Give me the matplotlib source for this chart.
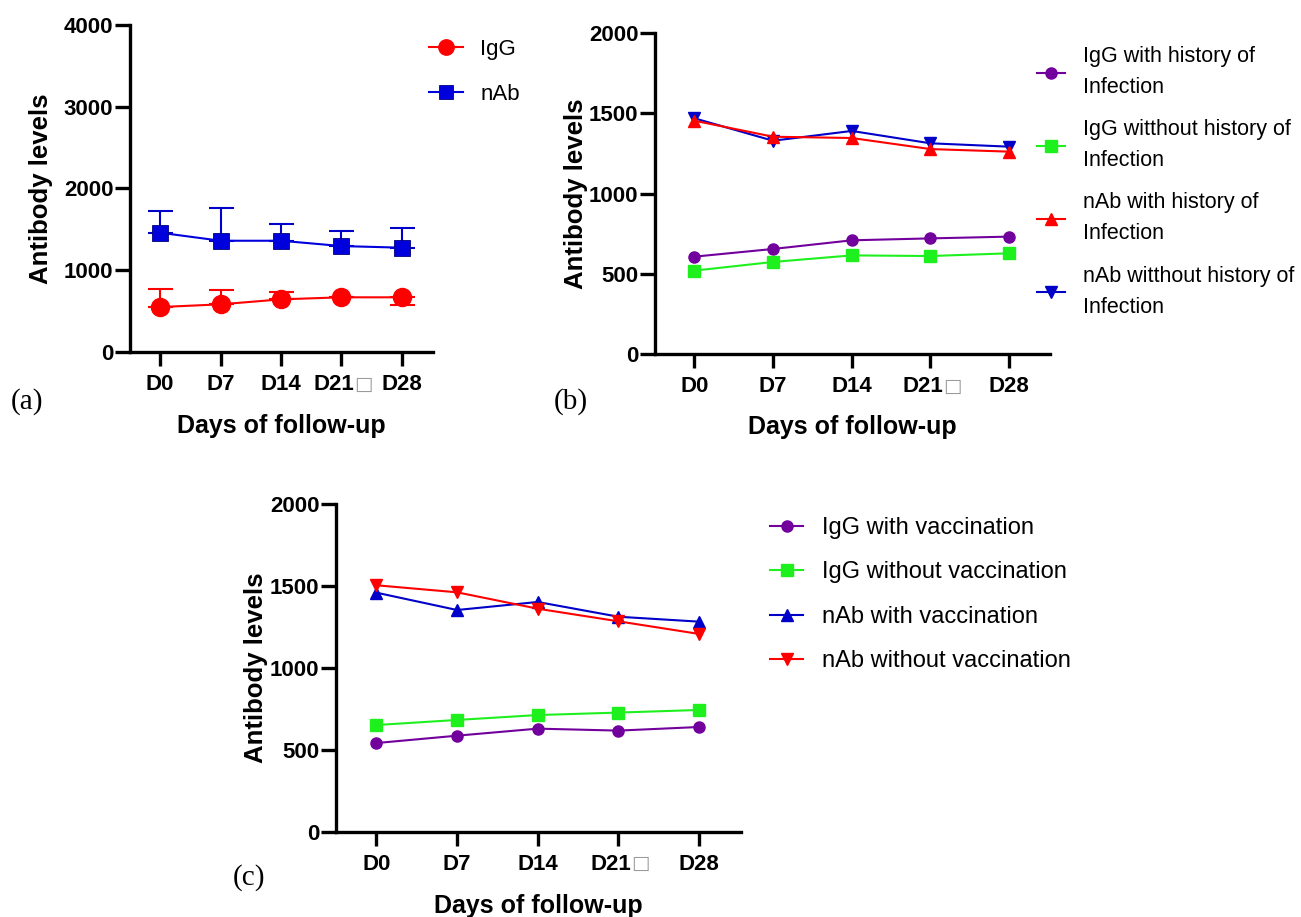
import matplotlib
matplotlib.use('Agg')
import matplotlib.pyplot as plt
import matplotlib.transforms as mtransforms

plt.rcParams['font.family'] = ['Liberation Sans', 'DejaVu Sans']

# ---- data ----
days = ['D0', 'D7', 'D14', 'D21', 'D28']

# (a) overall
igg_a = [550, 583, 644, 669, 669]
igg_a_err_up = [224, 175, 94, 0, 0]
igg_a_err_dn = [0, 0, 0, 0, 98]
nab_a = [1459, 1361, 1361, 1296, 1276]
nab_a_err_up = [265, 400, 204, 180, 244]
nab_a_err_dn = [0, 0, 0, 0, 0]

# (b) history of infection
igg_inf = [607, 655, 709, 721, 732]
igg_noinf = [520, 574, 615, 611, 628]
nab_inf = [1455, 1355, 1347, 1278, 1262]
nab_noinf = [1470, 1330, 1391, 1314, 1293]

# (c) vaccination
igg_vac = [541, 586, 629, 617, 639]
igg_novac = [651, 682, 712, 727, 743]
nab_vac = [1459, 1353, 1402, 1312, 1282]
nab_novac = [1504, 1461, 1361, 1284, 1207]

RED = '#ff0000'
BLUE = '#0000c8'
PURPLE = '#72009c'
GREEN = '#1ef01e'

W, H = 1301, 917
fig = plt.figure(figsize=(W / 100, H / 100), dpi=100)


def make_ax(x0, y_top, x1, y_bot):
    return fig.add_axes([x0 / W, 1 - y_bot / H, (x1 - x0) / W, (y_bot - y_top) / H])


def style_ax(ax, ymax, ystep, ylab_x):
    x = list(range(len(days)))
    for s in ['top', 'right']:
        ax.spines[s].set_visible(False)
    for s in ['left', 'bottom']:
        ax.spines[s].set_linewidth(2.4)
    ax.set_xlim(-0.5, 4.52)
    ax.set_ylim(0, ymax)
    ax.set_yticks(range(0, ymax + 1, ystep))
    ax.set_xticks(x)
    ax.set_xticklabels(days)
    ax.tick_params(axis='y', length=11, width=2.4, pad=1, labelsize=16)
    ax.tick_params(axis='x', length=10, width=2.4, pad=6, labelsize=16)
    for t in ax.get_xticklabels() + ax.get_yticklabels():
        t.set_fontweight('bold')
    # "D21" sits left of centre, followed by a missing-glyph box
    d21 = ax.get_xticklabels()[3]
    d21.set_transform(d21.get_transform() +
                      mtransforms.ScaledTranslation(-5.5 / 72, 0, fig.dpi_scale_trans))
    ax.annotate('\u25a1', xy=(3, 0), xycoords=('data', 'axes fraction'),
                xytext=(15.8, -23), textcoords='offset points', ha='center', va='center',
                fontsize=14, color='#9a9a9a', family='DejaVu Sans')
    ax.set_ylabel('Antibody levels', fontsize=18.5, fontweight='bold')
    ax.set_xlabel('Days of follow-up', fontsize=18, fontweight='bold')
    ax.yaxis.set_label_coords(ylab_x, 0.5)
    ax.xaxis.set_label_coords(0.5, -0.19)
    return x


# ---- (a) ----
ax1 = make_ax(130, 25, 433, 352)
x = style_ax(ax1, 4000, 1000, -0.253)
ax1.errorbar(x, igg_a, yerr=[igg_a_err_dn, igg_a_err_up], fmt='none', ecolor=RED,
             elinewidth=1.5, capsize=9, capthick=1.5, zorder=2)
ax1.errorbar(x, nab_a, yerr=[nab_a_err_dn, nab_a_err_up], fmt='none', ecolor=BLUE,
             elinewidth=1.5, capsize=9, capthick=1.5, zorder=2)
la1, = ax1.plot(x, igg_a, '-o', color=RED, lw=1.5, ms=13, zorder=3, label='IgG')
la2, = ax1.plot(x, nab_a, '-s', color='#0000dd', lw=1.5, ms=12, mec='#000080', mew=0.6,
                zorder=3, label='nAb')
fig.legend(handles=[la1, la2], loc='upper left', bbox_to_anchor=(429 / W, 1 - 39 / H),
           frameon=False, fontsize=16, handlelength=1.55, handletextpad=0.75,
           labelspacing=1.08, borderpad=0, borderaxespad=0, markerscale=0.85)
fig.text(11 / W, 1 - 402 / H, '(a)', fontsize=21, family='Liberation Serif', va='center')

# ---- (b) ----
ax2 = make_ax(655, 33.3, 1050, 354)
x = style_ax(ax2, 2000, 500, -0.17)
lb1, = ax2.plot(x, igg_inf, '-o', color=PURPLE, lw=1.5, ms=8, label='IgG with history of\nInfection')
lb2, = ax2.plot(x, igg_noinf, '-s', color=GREEN, lw=1.5, ms=8, label='IgG witthout history of\nInfection')
lb4, = ax2.plot(x, nab_noinf, '-v', color=BLUE, lw=1.5, ms=8, label='nAb witthout history of\nInfection')
lb3, = ax2.plot(x, nab_inf, '-^', color=RED, lw=1.5, ms=8, label='nAb with history of\nInfection')
leg2 = fig.legend(handles=[lb1, lb2, lb3, lb4], loc='upper left',
                  bbox_to_anchor=(1037 / W, 1 - 46 / H), frameon=False, fontsize=15.5,
                  handlelength=1.3, handletextpad=0.85, labelspacing=0.98,
                  borderpad=0, borderaxespad=0)
for t in leg2.get_texts():
    t.set_linespacing(1.63)
fig.text(554 / W, 1 - 402 / H, '(b)', fontsize=21, family='Liberation Serif', va='center')

# ---- (c) ----
ax3 = make_ax(336, 504, 741, 831.7)
x = style_ax(ax3, 2000, 500, -0.168)
lc1, = ax3.plot(x, igg_vac, '-o', color=PURPLE, lw=1.5, ms=8, label='IgG with vaccination')
lc2, = ax3.plot(x, igg_novac, '-s', color=GREEN, lw=1.5, ms=8, label='IgG without vaccination')
lc3, = ax3.plot(x, nab_vac, '-^', color=BLUE, lw=1.5, ms=8, label='nAb with vaccination')
lc4, = ax3.plot(x, nab_novac, '-v', color=RED, lw=1.5, ms=8, label='nAb without vaccination')
fig.legend(handles=[lc1, lc2, lc3, lc4], loc='upper left',
           bbox_to_anchor=(770 / W, 1 - 517 / H), frameon=False, fontsize=17,
           handlelength=1.4, handletextpad=0.8, labelspacing=0.95,
           borderpad=0, borderaxespad=0)
fig.text(233 / W, 1 - 878 / H, '(c)', fontsize=21, family='Liberation Serif', va='center')

fig.savefig('out.png', dpi=100)
